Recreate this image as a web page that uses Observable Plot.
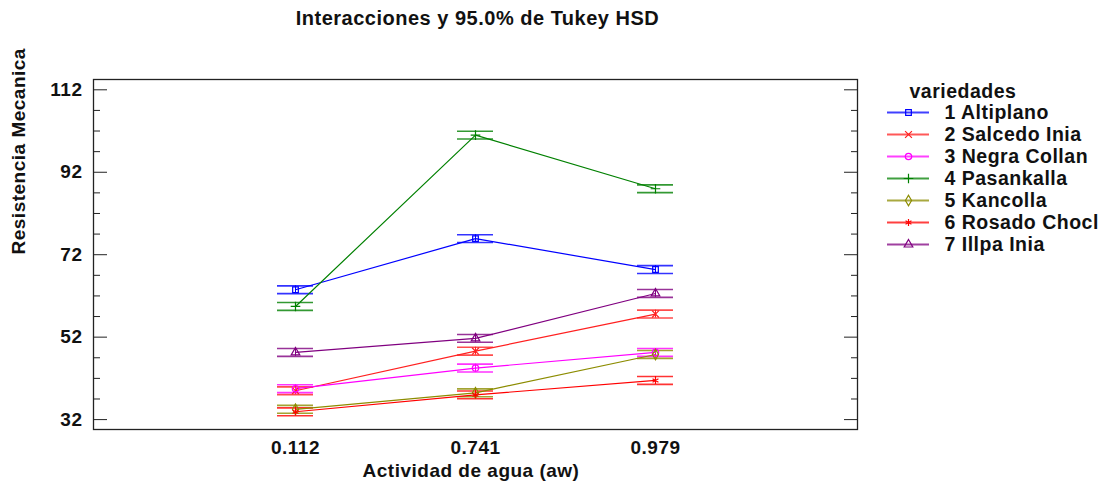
<!DOCTYPE html>
<html>
<head>
<meta charset="utf-8">
<script src="https://cdn.jsdelivr.net/npm/d3@7"></script>
<script src="https://cdn.jsdelivr.net/npm/@observablehq/plot@0.6"></script>
<style>
  html, body { margin: 0; padding: 0; background: #fff; overflow: hidden; }
  #chart { position: relative; width: 1108px; height: 483px; }
  #chart svg { position: absolute; font-family: "Liberation Sans", Arial, sans-serif; }
  #chart svg text { letter-spacing: 0.5px; }
  #legend { left: 860px; top: 80px; }
</style>
</head>
<body>
<div id="chart"></div>
<script>
// Water activity levels (x categories)
const awLevels = ["0.112", "0.741", "0.979"];

// Varieties, their colours and marker symbols
const varieties = [
  "1 Altiplano", "2 Salcedo Inia", "3 Negra Collan", "4 Pasankalla",
  "5 Kancolla", "6 Rosado Chocl", "7 Illpa Inia"
];
const varietyColors = ["#0000ff", "#ff2020", "#ff00ff", "#008000", "#8c8c00", "#ff0000", "#800080"];
const varietySymbols = ["square", "times", "circle", "plus", "diamond", "asterisk", "triangle"];

// Mean mechanical resistance per variety at each water activity level
const meanAltiplano   = [63.5, 75.9, 68.4];
const meanSalcedo     = [39.0, 48.6, 57.6];
const meanNegraCollan = [39.5, 44.5, 48.3];
const meanPasankalla  = [59.45, 101.0, 88.0];
const meanKancolla    = [34.5, 38.5, 47.8];
const meanRosado      = [33.9, 38.0, 41.5];
const meanIllpa       = [48.3, 51.7, 62.6];

// Half-width of the 95% Tukey HSD interval
const hsdHalfWidth = 0.95;

// Axis ticks
const yMajorTicks = [32, 52, 72, 92, 112];
const yMinorTicks = [37, 42, 47, 57, 62, 67, 77, 82, 87, 97, 102, 107];

const seriesMeans = [meanAltiplano, meanSalcedo, meanNegraCollan, meanPasankalla, meanKancolla, meanRosado, meanIllpa];
const rows = varieties.flatMap((variety, i) =>
  awLevels.map((aw, j) => ({variety, aw, mean: seriesMeans[i][j]}))
);

const font = {fontSize: 19, fontWeight: "bold", fill: "#111"};
const blank = () => "";

// horizontal cap of an interval, centred on its x category
const cap = (y) => Plot.ruleY(rows, {
  x1: "aw", x2: "aw", y, stroke: "variety",
  insetLeft: -18, insetRight: -18, strokeWidth: 1.6, strokeOpacity: 0.8
});

const main = Plot.plot({
  width: 1108,
  height: 483,
  marginLeft: 93,
  marginRight: 251,
  marginTop: 79,
  marginBottom: 54,
  x: {type: "point", domain: awLevels, padding: 1.117},
  y: {domain: [29.6, 114.5]},
  color: {domain: varieties, range: varietyColors},
  symbol: {domain: varieties, range: varietySymbols},
  marks: [
    Plot.frame({stroke: "#222", strokeWidth: 1.3}),
    // inward tick marks on both sides
    Plot.axisY({anchor: "left", ticks: yMajorTicks, tickSize: -14, tickFormat: blank, label: null, stroke: "#222"}),
    Plot.axisY({anchor: "left", ticks: yMinorTicks, tickSize: -7, tickFormat: blank, label: null, stroke: "#222"}),
    Plot.axisY({anchor: "right", ticks: yMajorTicks, tickSize: -14, tickFormat: blank, label: null, stroke: "#222"}),
    Plot.axisY({anchor: "right", ticks: yMinorTicks, tickSize: -7, tickFormat: blank, label: null, stroke: "#222"}),
    // tick labels
    Plot.axisY({anchor: "left", ticks: yMajorTicks, tickSize: 0, tickPadding: 11, label: null, ...font}),
    Plot.axisX({anchor: "bottom", tickSize: 0, tickPadding: 11, label: null, ...font}),
    // Tukey HSD intervals
    Plot.ruleX(rows, {x: "aw", y1: (d) => d.mean - hsdHalfWidth, y2: (d) => d.mean + hsdHalfWidth, stroke: "variety", strokeWidth: 1}),
    cap((d) => d.mean + hsdHalfWidth),
    cap((d) => d.mean - hsdHalfWidth),
    // interaction lines and means
    Plot.line(rows, {x: "aw", y: "mean", z: "variety", stroke: "variety", strokeWidth: 1.2}),
    Plot.dot(rows, {x: "aw", y: "mean", symbol: "variety", stroke: "variety", r: 3.2, strokeWidth: 1.2}),
    // titles
    Plot.text(["Interacciones y 95.0% de Tukey HSD"], {frameAnchor: "top", dx: 2, dy: -69, fontSize: 20, fontWeight: "bold", fill: "#111"}),
    Plot.text(["Resistencia Mecanica"], {frameAnchor: "left", dx: -75, rotate: -90, ...font}),
    Plot.text(["Actividad de agua (aw)"], {frameAnchor: "bottom", dx: -4.5, dy: 47, ...font})
  ]
});

const legend = Plot.plot({
  width: 248,
  height: 180,
  marginLeft: 27,
  marginRight: 179,
  marginTop: 31,
  marginBottom: 15,
  x: {domain: [0, 1], axis: null},
  y: {type: "point", domain: varieties, padding: 0, axis: null},
  color: {domain: varieties, range: varietyColors},
  symbol: {domain: varieties, range: varietySymbols},
  marks: [
    Plot.text(["variedades"], {frameAnchor: "top-left", dx: 22, dy: -14, lineAnchor: "bottom", textAnchor: "start", fontSize: 19.5, fontWeight: "bold", fill: "#111"}),
    Plot.ruleY(varieties, {y: (d) => d, x1: () => 0, x2: () => 1, stroke: (d) => d, strokeWidth: 2, strokeOpacity: 0.75}),
    Plot.dot(varieties, {x: () => 0.5, y: (d) => d, symbol: (d) => d, stroke: (d) => d, r: 3.2, strokeWidth: 1.2}),
    Plot.text(varieties, {x: () => 1, y: (d) => d, text: (d) => d, dx: 15, textAnchor: "start", fontSize: 19.5, fontWeight: "bold", fill: "#111"})
  ]
});
legend.id = "legend";

const chart = document.getElementById("chart");
chart.append(main, legend);
</script>
</body>
</html>
